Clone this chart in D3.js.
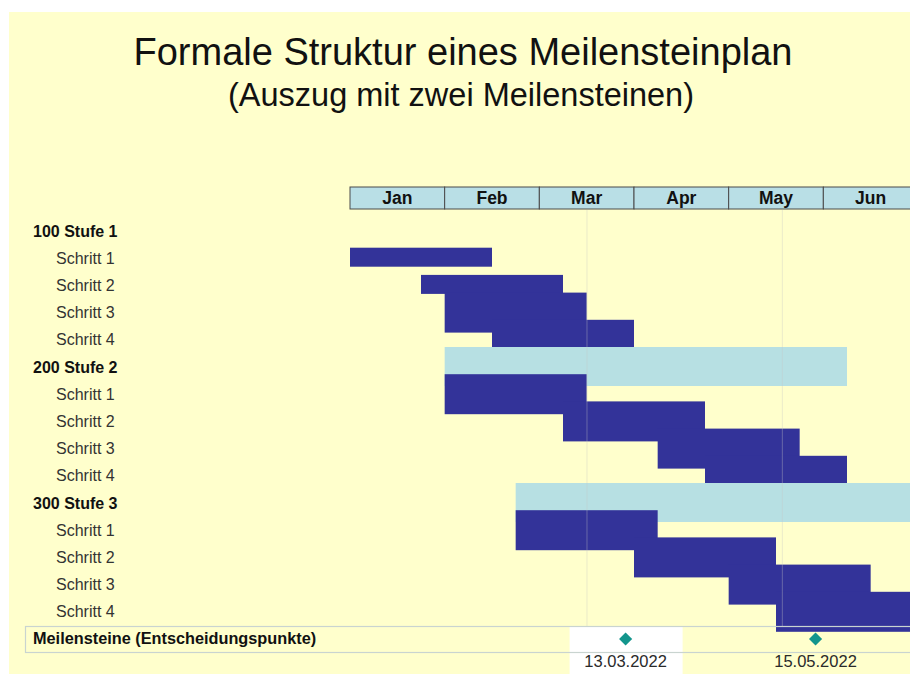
<!DOCTYPE html>
<html lang="de">

<head>
    <meta charset="utf-8">
    <style>
        body {
            margin: 0;
            background: #fff;
            font-family: 'Liberation Sans', Arial, sans-serif;
        }
    </style>
</head>

<body>
    <div class='plan'></div>
    <script src="https://cdn.jsdelivr.net/npm/d3@7"></script>
    <script>
        // Daten (Zeiten in Monaten ab 1. Januar)
        const months = ['Jan', 'Feb', 'Mar', 'Apr', 'May', 'Jun'];
        const rowLabels = ['100 Stufe 1', 'Schritt 1', 'Schritt 2', 'Schritt 3', 'Schritt 4',
            '200 Stufe 2', 'Schritt 1', 'Schritt 2', 'Schritt 3', 'Schritt 4',
            '300 Stufe 3', 'Schritt 1', 'Schritt 2', 'Schritt 3', 'Schritt 4'];
        const isStufe = [true, false, false, false, false, true, false, false, false, false, true, false, false, false, false];
        const barStart = [null, 0, 0.75, 1, 1.5, 1, 1, 2.25, 3.25, 3.75, 1.75, 1.75, 3, 4, 4.5];
        const barEnd = [null, 1.5, 2.25, 2.5, 3, 5.25, 2.5, 3.75, 4.75, 5.25, 6, 3.25, 4.5, 5.5, 6];
        const milestoneLabel = 'Meilensteine (Entscheidungspunkte)';
        const milestones = ['13.03.2022', '15.05.2022'];

        const width = 910, height = 674;

        const svg = d3.select('.plan').append('svg')
            .attr('width', width)
            .attr('height', height)
            .style('display', 'block');

        svg.append('rect')
            .attr('x', 9).attr('y', 12)
            .attr('width', width - 9).attr('height', height - 12)
            .attr('fill', '#ffffcc');

        // Titel
        svg.append('text')
            .attr('x', 463).attr('y', 65)
            .attr('text-anchor', 'middle')
            .style('font-size', '38px').style('fill', '#111')
            .text('Formale Struktur eines Meilensteinplan');
        svg.append('text')
            .attr('x', 461).attr('y', 106)
            .attr('text-anchor', 'middle')
            .style('font-size', '32.5px').style('fill', '#111')
            .text('(Auszug mit zwei Meilensteinen)');

        // Skalen
        const x = d3.scaleLinear().domain([0, months.length]).range([350, 918]);
        const y = d3.scaleBand().domain(d3.range(rowLabels.length)).range([217.4, 625.4]);
        // Meilensteinzeile sitzt im Original etwas versetzt
        const xMs = d3.scaleLinear().domain([0, months.length]).range([406, 958]);
        const xLine = d3.scaleLinear().domain([0, months.length]).range([361, 929]);

        const toMonths = s => {
            const [d, m, yr] = s.split('.').map(Number);
            const days = new Date(yr, m, 0).getDate();
            return (m - 1) + (d - 1) / days;
        };

        // Kopfzeile mit Monaten
        const head = svg.append('g');
        head.selectAll('rect')
            .data(months)
            .enter()
            .append('rect')
            .attr('x', (d, i) => x(i))
            .attr('y', 187)
            .attr('width', x(1) - x(0))
            .attr('height', 22)
            .attr('fill', '#b9dfe6')
            .attr('stroke', '#4a4a4a')
            .attr('stroke-width', 1);
        head.selectAll('text')
            .data(months)
            .enter()
            .append('text')
            .attr('x', (d, i) => x(i + 0.5))
            .attr('y', 204)
            .attr('text-anchor', 'middle')
            .style('font-size', '17.5px').style('font-weight', 'bold').style('fill', '#111')
            .text(d => d);

        // Zeilenbeschriftung
        svg.append('g').selectAll('text')
            .data(rowLabels)
            .enter()
            .append('text')
            .attr('x', (d, i) => isStufe[i] ? 33 : 56)
            .attr('y', (d, i) => y(i) + y.bandwidth() / 2 + 5.5)
            .style('font-size', (d, i) => isStufe[i] ? '16px' : '16px')
            .style('font-weight', (d, i) => isStufe[i] ? 'bold' : 'normal')
            .style('fill', (d, i) => isStufe[i] ? '#111' : '#333')
            .text(d => d);

        // Balken: Stufen hellblau, Schritte dunkelblau; die ersten beiden Schritte sind schmaler
        const barH = i => (i === 1 || i === 2) ? 19 : 40;
        const bars = d3.range(rowLabels.length).filter(i => barStart[i] !== null);
        svg.append('g').selectAll('rect')
            .data(bars)
            .enter()
            .append('rect')
            .attr('x', i => x(barStart[i]))
            .attr('width', i => x(barEnd[i]) - x(barStart[i]))
            .attr('y', i => y(i) + y.bandwidth() / 2 - barH(i) / 2 - ((i === 1 || i === 2) ? 1 : 0))
            .attr('height', i => isStufe[i] ? 39 : barH(i))
            .attr('fill', i => isStufe[i] ? '#b7e0e3' : '#333399');

        // senkrechte Linien an den Meilensteinen
        svg.append('g').selectAll('line')
            .data(milestones)
            .enter()
            .append('line')
            .attr('x1', d => xLine(toMonths(d)))
            .attr('x2', d => xLine(toMonths(d)))
            .attr('y1', 210).attr('y2', 626)
            .attr('stroke', '#c8c8c8').attr('stroke-opacity', 0.3).attr('stroke-width', 1.2);

        // Meilensteinzeile
        const ms = svg.append('g');
        ms.append('rect')   // markierte Zelle
            .attr('x', xMs(toMonths(milestones[0])) - 56)
            .attr('y', 627)
            .attr('width', 113)
            .attr('height', height - 627)
            .attr('fill', '#ffffff');
        ms.append('rect')
            .attr('x', 25.5).attr('y', 626.5)
            .attr('width', width).attr('height', 26)
            .attr('fill', 'none')
            .attr('stroke', '#c9d4d0').attr('stroke-width', 1.2);
        ms.append('text')
            .attr('x', 33).attr('y', 644)
            .style('font-size', '16.3px').style('font-weight', 'bold').style('fill', '#111')
            .text(milestoneLabel);
        ms.selectAll('path')
            .data(milestones)
            .enter()
            .append('path')
            .attr('d', d3.symbol(d3.symbolDiamond2, 110))
            .attr('transform', d => `translate(${xMs(toMonths(d))},639)`)
            .attr('fill', '#13958c');
        ms.selectAll('text.datum')
            .data(milestones)
            .enter()
            .append('text')
            .attr('class', 'datum')
            .attr('x', d => xMs(toMonths(d)))
            .attr('y', 667)
            .attr('text-anchor', 'middle')
            .style('font-size', '16.5px').style('fill', '#2a2a2a')
            .text(d => d);
    </script>
</body>

</html>
